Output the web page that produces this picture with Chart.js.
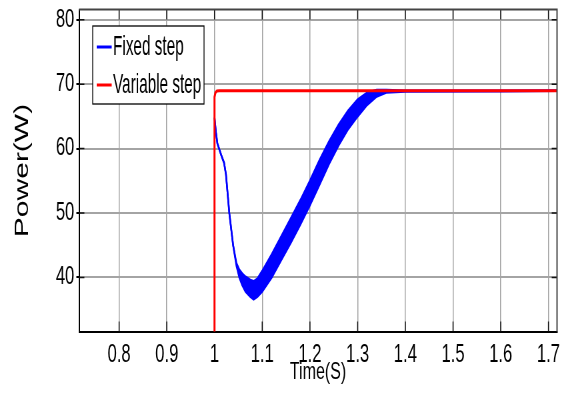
<!DOCTYPE html>
<html>
<head>
<meta charset="utf-8">
<script src="https://cdn.jsdelivr.net/npm/chart.js@4.4.1/dist/chart.umd.min.js"></script>
<style>
  html, body { margin: 0; padding: 0; background: #fff; overflow: hidden; }
  /* figure is laid out wide and squeezed horizontally, like the exported plot */
  #wrap { width: 855px; height: 399px; transform: scaleX(0.6667); transform-origin: 0 0; }
</style>
</head>
<body>
<div id="wrap"><canvas id="power"></canvas></div>
<script>
'use strict';

// ─── DATA ────────────────────────────────────────────────────────────────────
const xTicks      = [0.8, 0.9, 1.0, 1.1, 1.2, 1.3, 1.4, 1.5, 1.6, 1.7];
const xTickLabels = ['0.8', '0.9', '1', '1.1', '1.2', '1.3', '1.4', '1.5', '1.6', '1.7'];
const yTicks      = [40, 50, 60, 70, 80];

// fixed step P&O: ripple band (upper / lower edge of the power trace)
const fixedTime  = [1.000, 1.003, 1.006, 1.014, 1.020, 1.024, 1.031, 1.039, 1.046, 1.052,
                    1.058, 1.065, 1.075, 1.082, 1.090, 1.100, 1.120, 1.140, 1.160, 1.180,
                    1.200, 1.220, 1.240, 1.260, 1.280, 1.300, 1.320, 1.340, 1.360, 1.400,
                    1.600, 1.718];
const fixedUpper = [64.8, 62.5, 60.8, 59.0, 57.8, 56.0, 50.0, 45.0, 42.2, 41.2,
                    40.6, 40.1, 39.6, 39.4, 39.8, 41.0, 43.6, 46.4, 49.2, 52.0,
                    55.0, 58.2, 61.1, 63.7, 65.9, 67.6, 68.7, 69.1, 69.1, 69.0,
                    69.0, 69.0];
const fixedLower = [64.8, 62.5, 60.8, 59.0, 57.8, 56.0, 50.0, 45.0, 41.8, 40.0,
                    38.8, 37.8, 37.0, 36.6, 37.0, 37.8, 40.0, 42.7, 45.4, 48.2,
                    51.2, 54.4, 57.6, 60.5, 63.0, 65.0, 66.8, 68.1, 68.7, 68.85,
                    68.9, 69.0];

// variable step P&O
const varTime  = [1.000, 1.000, 1.002, 1.005, 1.010, 1.718];
const varPower = [0, 68.0, 68.7, 68.95, 69.0, 69.0];

const X_MIN = 0.716, X_MAX = 1.718;
const Y_MIN = 31.6,  Y_MAX = 81.6;

const BLUE = '#0000ff';
const RED  = '#ff0000';
const FONT = "'Liberation Sans', Arial, sans-serif";

const pts = (xs, ys) => xs.map((x, i) => ({ x, y: ys[i] }));

// keep the axes box at a fixed spot: no extra room for edge labels
function fixBox(size) {
  return s => {
    if (s.isHorizontal()) s.height = size; else s.width = size;
    s.paddingTop = s.paddingBottom = s.paddingLeft = s.paddingRight = 0;
  };
}

// ─── PLUGINS ─────────────────────────────────────────────────────────────────
// inward tick marks on all four sides
const innerTicks = {
  id: 'innerTicks',
  beforeDatasetsDraw(chart) {
    const { ctx, chartArea: a, scales: { x, y } } = chart;
    ctx.save();
    ctx.strokeStyle = '#111';
    ctx.lineWidth = 1.5;
    ctx.beginPath();
    x.ticks.forEach(t => {
      const px = x.getPixelForValue(t.value);
      ctx.moveTo(px, a.bottom); ctx.lineTo(px, a.bottom - 10);
      ctx.moveTo(px, a.top);    ctx.lineTo(px, a.top + 10);
    });
    y.ticks.forEach(t => {
      const py = y.getPixelForValue(t.value);
      ctx.moveTo(a.left, py);  ctx.lineTo(a.left + 8, py);
      ctx.moveTo(a.right, py); ctx.lineTo(a.right - 8, py);
    });
    ctx.stroke();
    ctx.restore();
  }
};

// top / right frame of the axes box
const boxFrame = {
  id: 'boxFrame',
  afterDatasetsDraw(chart) {
    const { ctx, chartArea: a } = chart;
    ctx.save();
    ctx.strokeStyle = '#444';
    ctx.lineWidth = 2;
    ctx.beginPath();
    ctx.moveTo(a.left, a.top);
    ctx.lineTo(a.right, a.top);
    ctx.lineTo(a.right, a.bottom);
    ctx.stroke();
    ctx.restore();
  }
};

// boxed legend in the upper left corner of the plot
const boxLegend = {
  id: 'boxLegend',
  afterDraw(chart) {
    const { ctx, chartArea: a } = chart;
    const items = chart.data.datasets.filter(d => d.label);
    const left = a.left + 20.5, top = a.top + 16.5, w = 167, h = 78;
    ctx.save();
    ctx.fillStyle = '#fff';
    ctx.fillRect(left, top, w, h);
    ctx.strokeStyle = '#000';
    ctx.lineWidth = 1.3;
    ctx.strokeRect(left, top, w, h);
    ctx.font = '28px ' + FONT;
    ctx.textBaseline = 'middle';
    ctx.fillStyle = '#000';
    items.forEach((d, i) => {
      const cy = top + 21 + i * 38;
      ctx.strokeStyle = d.borderColor;
      ctx.lineWidth = 3;
      ctx.beginPath();
      ctx.moveTo(left + 6, cy);
      ctx.lineTo(left + 28.5, cy);
      ctx.stroke();
      // condensed label text
      ctx.save();
      ctx.translate(left + 30.5, cy);
      ctx.scale(0.82, 1);
      ctx.fillText(d.label, 0, 0);
      ctx.restore();
    });
    ctx.restore();
  }
};

// ─── CHART ───────────────────────────────────────────────────────────────────
new Chart(document.getElementById('power'), {
  type: 'line',
  data: {
    datasets: [
      {
        label: 'Fixed step',
        data: pts(fixedTime, fixedUpper),
        borderColor: BLUE, backgroundColor: BLUE,
        borderWidth: 2.5, pointRadius: 0, tension: 0, fill: false, order: 1
      },
      {
        label: '',
        data: pts(fixedTime, fixedLower),
        borderColor: BLUE, backgroundColor: BLUE,
        borderWidth: 2.5, pointRadius: 0, tension: 0, fill: '-1', order: 1
      },
      {
        label: 'Variable step',
        data: pts(varTime, varPower),
        borderColor: RED, backgroundColor: RED,
        borderWidth: 3, pointRadius: 0, tension: 0, fill: false, order: 0
      }
    ]
  },
  options: {
    responsive: true,
    maintainAspectRatio: false,
    animation: false,
    layout: { padding: { left: 0, top: 9.5, right: 19.5, bottom: 0 } },
    plugins: { legend: { display: false }, tooltip: { enabled: false } },
    scales: {
      x: {
        type: 'linear', min: X_MIN, max: X_MAX,
        afterBuildTicks: s => { s.ticks = xTicks.map(v => ({ value: v })); },
        afterFit: fixBox(67.5),
        ticks: {
          callback: (v, i) => xTickLabels[i],
          color: '#000', font: { family: FONT, size: 25 },
          padding: 9, maxRotation: 0, autoSkip: false
        },
        grid: { color: '#a4a4a4', lineWidth: 1.5, drawTicks: false },
        border: { color: '#000', width: 2 },
        title: {
          display: true, text: 'Time(S)', color: '#000',
          font: { family: FONT, size: 24 }, padding: { top: 0, bottom: 12 }
        }
      },
      y: {
        type: 'linear', min: Y_MIN, max: Y_MAX,
        afterBuildTicks: s => { s.ticks = yTicks.map(v => ({ value: v })); },
        afterFit: fixBox(118.5),
        ticks: {
          callback: v => String(v),
          color: '#000', font: { family: FONT, size: 25 },
          padding: 3, autoSkip: false
        },
        grid: { color: '#a4a4a4', lineWidth: 2, drawTicks: true, tickLength: 4, tickColor: '#000' },
        border: { color: '#000', width: 2 },
        title: {
          display: true, text: 'Power(W)', color: '#000',
          font: { family: FONT, size: 30 }, padding: { top: 15.75, bottom: 0 }
        }
      }
    }
  },
  plugins: [innerTicks, boxFrame, boxLegend]
});
</script>
</body>
</html>
